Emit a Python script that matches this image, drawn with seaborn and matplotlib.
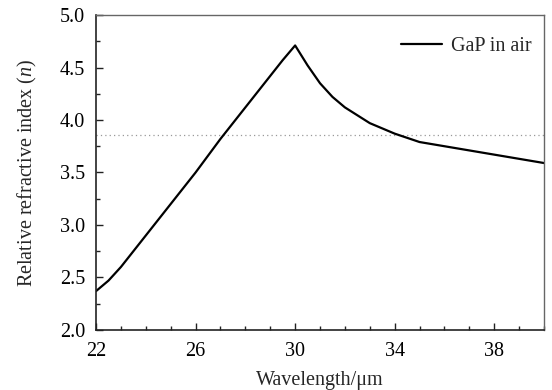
import numpy as np
import pandas as pd
import matplotlib
matplotlib.use("Agg")
import matplotlib.pyplot as plt
import seaborn as sns
from matplotlib.ticker import MultipleLocator

wavelength = [22, 22.5, 23, 24, 25, 26, 27, 28, 29, 29.5, 30, 30.5, 31, 31.5, 32, 33, 34, 35, 36, 37, 38, 39, 40]
index_n = [2.37, 2.47, 2.60, 2.90, 3.20, 3.50, 3.82, 4.12, 4.42, 4.57, 4.71, 4.52, 4.35, 4.22, 4.12, 3.97, 3.87, 3.79, 3.75, 3.71, 3.67, 3.63, 3.59]
ref_level = 3.86
x_ticks = [22, 26, 30, 34, 38]
y_ticks = [2.0, 2.5, 3.0, 3.5, 4.0, 4.5, 5.0]

sns.set_style("white")
plt.rcParams['font.family'] = 'Liberation Serif'
plt.rcParams['mathtext.fontset'] = 'custom'
plt.rcParams['mathtext.rm'] = 'Liberation Serif'
plt.rcParams['mathtext.it'] = 'Liberation Serif:italic'

FS = 14.5
df = pd.DataFrame({"Wavelength": wavelength, "n": index_n})

fig = plt.figure(figsize=(5.52, 3.9), dpi=100)
ax = fig.add_axes([0.174, 0.154, 0.8115, 0.8075])

ax.axhline(ref_level, color="#999999", linestyle=(0, (1, 2.5)), linewidth=0.9)
sns.lineplot(data=df, x="Wavelength", y="n", ax=ax, color="black", linewidth=1.6, label="GaP in air")

ax.set_xlim(22, 40)
ax.set_ylim(2.0, 5.0)
ax.set_xticks(x_ticks)
ax.set_yticks(y_ticks)
ax.set_yticklabels([f"{v:.1f}" for v in y_ticks])
ax.xaxis.set_minor_locator(MultipleLocator(1))
ax.yaxis.set_minor_locator(MultipleLocator(0.25))
ax.tick_params(axis="both", which="both", direction="in", labelsize=FS, colors="#222222", labelcolor="black")
ax.tick_params(axis="both", which="major", length=5, width=1)
ax.tick_params(axis="both", which="minor", length=3, width=1)
ax.tick_params(axis="x", which="both", bottom=True, top=False, pad=9)
ax.tick_params(axis="y", which="both", left=True, right=False, pad=8)

for side in ["left", "bottom"]:
    ax.spines[side].set_color("#222222")
    ax.spines[side].set_linewidth(1.2)
for side in ["top", "right"]:
    ax.spines[side].set_color("#666666")
    ax.spines[side].set_linewidth(1.0)

ax.set_xlabel("Wavelength/\u03bcm", fontsize=FS, labelpad=7)
ax.set_ylabel("Relative refractive index ($n$)", fontsize=FS, labelpad=15)

leg = ax.legend(loc="center right", bbox_to_anchor=(0.99, 0.90), frameon=False, fontsize=FS,
                handlelength=2.0, handletextpad=0.45, borderaxespad=0)

fig.savefig("out.png", dpi=100)
